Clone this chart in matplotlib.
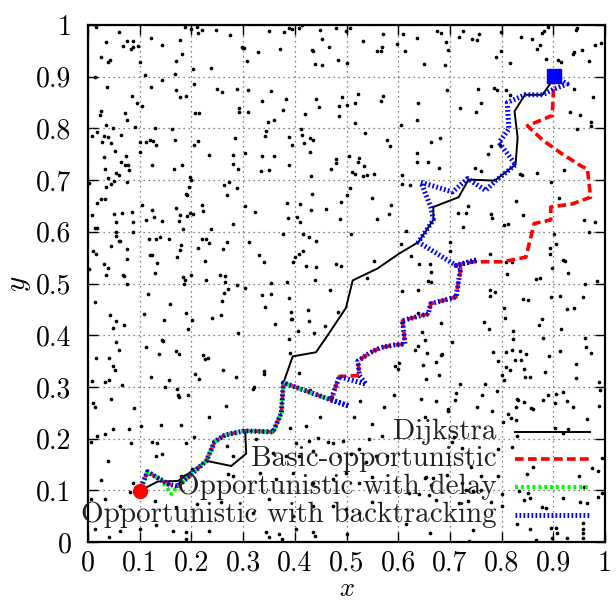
import matplotlib
matplotlib.use("Agg")
import matplotlib.pyplot as plt
import numpy as np

# ---------------- data ----------------
ticks = [0, 0.1, 0.2, 0.3, 0.4, 0.5, 0.6, 0.7, 0.8, 0.9, 1]
tick_labels = ["0", "0.1", "0.2", "0.3", "0.4", "0.5", "0.6", "0.7", "0.8", "0.9", "1"]

series_names = ["Dijkstra", "Basic-opportunistic", "Opportunistic with delay",
                "Opportunistic with backtracking"]

start_point = (0.1, 0.099)
end_point = (0.901, 0.902)

dijkstra = [(0.1, 0.099), (0.135, 0.117), (0.174, 0.118), (0.229, 0.157), (0.277, 0.147),
            (0.306, 0.171), (0.304, 0.215), (0.358, 0.213), (0.374, 0.250), (0.378, 0.308),
            (0.396, 0.359), (0.441, 0.367), (0.467, 0.405), (0.499, 0.453), (0.512, 0.506),
            (0.560, 0.529), (0.602, 0.558), (0.639, 0.580), (0.668, 0.623), (0.668, 0.648),
            (0.717, 0.667), (0.736, 0.701), (0.787, 0.699), (0.827, 0.730), (0.831, 0.782),
            (0.825, 0.833), (0.845, 0.865), (0.879, 0.865), (0.898, 0.892), (0.901, 0.902)]

basic = [(0.1, 0.099), (0.115, 0.136), (0.155, 0.112), (0.174, 0.108), (0.184, 0.117),
         (0.229, 0.157), (0.245, 0.194), (0.265, 0.207), (0.303, 0.215), (0.358, 0.213),
         (0.374, 0.250), (0.378, 0.308), (0.470, 0.275), (0.486, 0.320), (0.525, 0.322),
         (0.522, 0.350), (0.545, 0.366), (0.566, 0.376), (0.592, 0.381), (0.613, 0.383),
         (0.611, 0.406), (0.608, 0.428), (0.640, 0.437), (0.658, 0.441), (0.663, 0.461),
         (0.701, 0.471), (0.712, 0.474), (0.716, 0.500), (0.721, 0.529), (0.712, 0.535),
         (0.744, 0.542), (0.802, 0.542), (0.847, 0.551), (0.863, 0.616), (0.895, 0.623),
         (0.895, 0.648), (0.937, 0.654), (0.972, 0.667), (0.966, 0.722), (0.956, 0.726),
         (0.915, 0.752), (0.880, 0.777), (0.850, 0.805), (0.898, 0.825), (0.901, 0.889),
         (0.901, 0.902)]

delay = [(0.1, 0.099), (0.115, 0.136), (0.142, 0.120), (0.161, 0.093), (0.174, 0.108),
         (0.184, 0.117), (0.229, 0.157), (0.245, 0.194), (0.265, 0.207), (0.303, 0.215),
         (0.358, 0.213), (0.374, 0.250), (0.378, 0.308), (0.470, 0.275)]

backtracking = [(0.1, 0.099), (0.115, 0.136), (0.155, 0.112), (0.174, 0.108), (0.184, 0.117),
                (0.229, 0.157), (0.245, 0.194), (0.265, 0.207), (0.303, 0.215), (0.358, 0.213),
                (0.374, 0.250), (0.378, 0.308), (0.470, 0.275), (0.505, 0.263), (0.470, 0.275),
                (0.486, 0.320), (0.538, 0.305), (0.525, 0.322), (0.522, 0.350), (0.545, 0.366),
                (0.566, 0.376), (0.592, 0.381), (0.613, 0.383), (0.611, 0.406), (0.608, 0.428),
                (0.640, 0.437), (0.658, 0.441), (0.663, 0.461), (0.701, 0.471), (0.712, 0.474),
                (0.716, 0.500), (0.721, 0.529), (0.712, 0.535), (0.753, 0.546), (0.712, 0.535),
                (0.639, 0.580), (0.668, 0.623), (0.663, 0.648), (0.644, 0.696), (0.705, 0.677),
                (0.734, 0.703), (0.769, 0.680), (0.789, 0.699), (0.827, 0.730), (0.795, 0.773),
                (0.814, 0.799), (0.811, 0.850), (0.845, 0.865), (0.879, 0.865), (0.901, 0.876),
                (0.927, 0.886), (0.901, 0.902)]

nodes = [
    (0.015, 0.997), (0.060, 0.987), (0.035, 0.968), (0.076, 0.970), (0.088, 0.970), (0.067, 0.960),
    (0.083, 0.954), (0.088, 0.957), (0.096, 0.960), (0.025, 0.939), (0.042, 0.933), (0.038, 0.928),
    (0.122, 0.975), (0.178, 0.971), (0.143, 0.961), (0.181, 0.943), (0.171, 0.931), (0.101, 0.928),
    (0.188, 0.997), (0.199, 0.992), (0.210, 0.997), (0.213, 0.985), (0.221, 0.991), (0.248, 0.991),
    (0.274, 0.980), (0.297, 0.957), (0.238, 0.917), (0.203, 0.914), (0.168, 0.906), (0.110, 0.903),
    (0.014, 0.899), (0.144, 0.894), (0.036, 0.880), (0.121, 0.880), (0.171, 0.875), (0.205, 0.886),
    (0.250, 0.876), (0.259, 0.870), (0.288, 0.877), (0.177, 0.861), (0.190, 0.862), (0.085, 0.862),
    (0.095, 0.850), (0.105, 0.843), (0.025, 0.834), (0.023, 0.826), (0.072, 0.830), (0.076, 0.816),
    (0.292, 0.840), (0.293, 0.831), (0.207, 0.829), (0.214, 0.830), (0.034, 0.806), (0.048, 0.801),
    (0.091, 0.802), (0.130, 0.801), (0.163, 0.798), (0.007, 0.786), (0.017, 0.794), (0.030, 0.785),
    (0.038, 0.783), (0.063, 0.787), (0.028, 0.774), (0.045, 0.771), (0.100, 0.773), (0.112, 0.773),
    (0.119, 0.777), (0.125, 0.776), (0.131, 0.768), (0.168, 0.778), (0.205, 0.768), (0.212, 0.775),
    (0.284, 0.781), (0.052, 0.756), (0.101, 0.755), (0.031, 0.744), (0.074, 0.746), (0.063, 0.735),
    (0.072, 0.729), (0.077, 0.729), (0.124, 0.729), (0.181, 0.729), (0.234, 0.748), (0.281, 0.749),
    (0.280, 0.732),
    (0.032, 0.722), (0.079, 0.720), (0.167, 0.722), (0.290, 0.721), (0.054, 0.714), (0.060, 0.709),
    (0.038, 0.705), (0.050, 0.698), (0.045, 0.692), (0.035, 0.687), (0.001, 0.694), (0.076, 0.696),
    (0.198, 0.706), (0.199, 0.701), (0.195, 0.687), (0.190, 0.674), (0.192, 0.672), (0.264, 0.691),
    (0.272, 0.697), (0.289, 0.685), (0.268, 0.672), (0.026, 0.663), (0.033, 0.663), (0.018, 0.655),
    (0.008, 0.632), (0.050, 0.635), (0.066, 0.637), (0.055, 0.619), (0.086, 0.639), (0.104, 0.652),
    (0.123, 0.642), (0.127, 0.628), (0.112, 0.622), (0.087, 0.618), (0.144, 0.620), (0.171, 0.646),
    (0.177, 0.632), (0.176, 0.621), (0.198, 0.637), (0.203, 0.635), (0.191, 0.631), (0.220, 0.652),
    (0.223, 0.640), (0.280, 0.615), (0.014, 0.607), (0.017, 0.607), (0.055, 0.600), (0.088, 0.599),
    (0.055, 0.592), (0.059, 0.583), (0.061, 0.582), (0.183, 0.605), (0.238, 0.605), (0.009, 0.563),
    (0.016, 0.558), (0.045, 0.572), (0.076, 0.567), (0.118, 0.586), (0.131, 0.587), (0.140, 0.589),
    (0.157, 0.586), (0.179, 0.574), (0.177, 0.564), (0.172, 0.552), (0.119, 0.555), (0.124, 0.555),
    (0.075, 0.547), (0.221, 0.586), (0.228, 0.587), (0.234, 0.579), (0.213, 0.568), (0.261, 0.566),
    (0.268, 0.581), (0.227, 0.544), (0.134, 0.539), (0.030, 0.538), (0.039, 0.530), (0.001, 0.529),
    (0.035, 0.516), (0.067, 0.516), (0.069, 0.514), (0.130, 0.521), (0.184, 0.512), (0.187, 0.507),
    (0.200, 0.516), (0.185, 0.500), (0.229, 0.506), (0.076, 0.499), (0.255, 0.517), (0.265, 0.514),
    (0.265, 0.502), (0.270, 0.489), (0.263, 0.482), (0.289, 0.498), (0.259, 0.466), (0.014, 0.465),
    (0.117, 0.479), (0.159, 0.460),
    (0.351, 0.988), (0.380, 0.986), (0.389, 0.995), (0.395, 0.993), (0.409, 0.994), (0.414, 1.000),
    (0.299, 0.955), (0.301, 0.955), (0.329, 0.947), (0.372, 0.953), (0.308, 0.930), (0.449, 0.990),
    (0.480, 0.994), (0.453, 0.972), (0.434, 0.952), (0.436, 0.949), (0.467, 0.957), (0.439, 0.925),
    (0.452, 0.923), (0.484, 0.932), (0.499, 0.989), (0.507, 0.995), (0.501, 0.927), (0.570, 0.983),
    (0.532, 0.969), (0.559, 0.950), (0.566, 0.950), (0.568, 0.957), (0.609, 0.983), (0.637, 0.975),
    (0.676, 0.988), (0.683, 0.985), (0.597, 0.963), (0.614, 0.950), (0.692, 0.968), (0.696, 0.952),
    (0.650, 0.924), (0.691, 0.923), (0.725, 0.989), (0.717, 0.977), (0.742, 0.972), (0.753, 0.971),
    (0.757, 0.983), (0.799, 0.986), (0.799, 0.950), (0.790, 0.938), (0.816, 0.926), (0.838, 0.977),
    (0.858, 0.972), (0.879, 0.984), (0.882, 0.988), (0.889, 0.997), (0.875, 0.962), (0.868, 0.954),
    (0.886, 0.935), (0.946, 0.994), (0.944, 0.990), (0.910, 0.932), (0.915, 0.928), (0.939, 0.943),
    (0.941, 0.948), (0.956, 0.952), (0.969, 0.930), (0.980, 0.962), (0.992, 0.966),
    (0.310, 0.875), (0.353, 0.872), (0.695, 0.874), (0.754, 0.877), (0.786, 0.879), (0.791, 0.874),
    (0.809, 0.874), (0.816, 0.865), (0.941, 0.876), (0.977, 0.861), (0.337, 0.853), (0.383, 0.857),
    (0.441, 0.857), (0.492, 0.861), (0.522, 0.867), (0.571, 0.863), (0.567, 0.853), (0.309, 0.831),
    (0.378, 0.836), (0.420, 0.828), (0.447, 0.841), (0.486, 0.843), (0.517, 0.849), (0.501, 0.845),
    (0.638, 0.850), (0.719, 0.839), (0.751, 0.832), (0.761, 0.849), (0.933, 0.831), (0.951, 0.825),
    (0.348, 0.812), (0.360, 0.816), (0.485, 0.824), (0.516, 0.810), (0.636, 0.816), (0.605, 0.807),
    (0.973, 0.812), (0.973, 0.804), (0.344, 0.795), (0.342, 0.785), (0.412, 0.799), (0.413, 0.788),
    (0.430, 0.781), (0.435, 0.778), (0.389, 0.783), (0.395, 0.768), (0.417, 0.771), (0.429, 0.755),
    (0.303, 0.752), (0.336, 0.746), (0.360, 0.746), (0.479, 0.741), (0.480, 0.733), (0.470, 0.721),
    (0.389, 0.730), (0.334, 0.717), (0.350, 0.719), (0.432, 0.708), (0.535, 0.791), (0.579, 0.778),
    (0.584, 0.765), (0.524, 0.742), (0.504, 0.746), (0.522, 0.735), (0.534, 0.728), (0.511, 0.715),
    (0.516, 0.712), (0.532, 0.707), (0.540, 0.709), (0.553, 0.711), (0.607, 0.710), (0.637, 0.752),
    (0.636, 0.735), (0.657, 0.735), (0.680, 0.782), (0.663, 0.773), (0.678, 0.723), (0.748, 0.724),
    (0.760, 0.718), (0.773, 0.751), (0.780, 0.766), (0.797, 0.768), (0.835, 0.711), (0.839, 0.709),
    (0.869, 0.714), (0.945, 0.799), (0.921, 0.720), (0.304, 0.650), (0.323, 0.639), (0.385, 0.655),
    (0.387, 0.627), (0.404, 0.629), (0.411, 0.618), (0.411, 0.654), (0.431, 0.643), (0.433, 0.674),
    (0.460, 0.644), (0.487, 0.625), (0.506, 0.685), (0.489, 0.658), (0.501, 0.672), (0.550, 0.666),
    (0.559, 0.625), (0.587, 0.651), (0.582, 0.634), (0.607, 0.693), (0.622, 0.690), (0.735, 0.649),
    (0.715, 0.636), (0.731, 0.636), (0.726, 0.609), (0.780, 0.635), (0.781, 0.627), (0.804, 0.613),
    (0.813, 0.616), (0.841, 0.633), (0.827, 0.659), (0.911, 0.665), (0.960, 0.623), (0.980, 0.618),
    (0.896, 0.697), (0.312, 0.580), (0.331, 0.555), (0.340, 0.541), (0.377, 0.595), (0.416, 0.595),
    (0.428, 0.590), (0.441, 0.582), (0.409, 0.558), (0.396, 0.542), (0.416, 0.562), (0.400, 0.551),
    (0.422, 0.534), (0.441, 0.531), (0.440, 0.506), (0.480, 0.537), (0.490, 0.534), (0.509, 0.595),
    (0.553, 0.543), (0.539, 0.511), (0.615, 0.602), (0.605, 0.576), (0.625, 0.553), (0.641, 0.537),
    (0.663, 0.523), (0.663, 0.503), (0.661, 0.537), (0.701, 0.581), (0.701, 0.562), (0.778, 0.558),
    (0.808, 0.541), (0.810, 0.519), (0.820, 0.541), (0.901, 0.596), (0.905, 0.577), (0.894, 0.568),
    (0.893, 0.557), (0.898, 0.530), (0.918, 0.545), (0.923, 0.544), (0.928, 0.521), (0.970, 0.599),
    (0.866, 0.508), (0.874, 0.511), (0.303, 0.492), (0.337, 0.477), (0.354, 0.479), (0.342, 0.454),
    (0.353, 0.501), (0.384, 0.503), (0.389, 0.472), (0.392, 0.444), (0.393, 0.432), (0.426, 0.449),
    (0.469, 0.488), (0.483, 0.445), (0.607, 0.485), (0.638, 0.487), (0.638, 0.443), (0.657, 0.504),
    (0.777, 0.488), (0.787, 0.483), (0.777, 0.475), (0.805, 0.452), (0.806, 0.434), (0.842, 0.470),
    (0.852, 0.469), (0.879, 0.432), (0.895, 0.473), (0.912, 0.476), (0.926, 0.451), (0.940, 0.453),
    (0.958, 0.474), (0.962, 0.499), (0.985, 0.504),
    (0.683, 0.423), (0.647, 0.406), (0.652, 0.391), (0.639, 0.380), (0.633, 0.372), (0.655, 0.365),
    (0.602, 0.346), (0.600, 0.334), (0.648, 0.343), (0.674, 0.348), (0.684, 0.364), (0.682, 0.361),
    (0.678, 0.323), (0.653, 0.315), (0.705, 0.387), (0.719, 0.305), (0.766, 0.426), (0.775, 0.412),
    (0.783, 0.367), (0.793, 0.351), (0.767, 0.306), (0.822, 0.408), (0.808, 0.368), (0.821, 0.371),
    (0.835, 0.369), (0.823, 0.392), (0.826, 0.352), (0.837, 0.352), (0.848, 0.363), (0.808, 0.338),
    (0.816, 0.333), (0.843, 0.335), (0.846, 0.319), (0.855, 0.320), (0.800, 0.323), (0.805, 0.314),
    (0.873, 0.420), (0.881, 0.394), (0.892, 0.360), (0.883, 0.329), (0.915, 0.412), (0.912, 0.369),
    (0.962, 0.394), (0.963, 0.378), (0.972, 0.366), (0.943, 0.344), (0.943, 0.318), (0.989, 0.310),
    (0.991, 0.294), (0.712, 0.288), (0.710, 0.274), (0.697, 0.257), (0.696, 0.254), (0.673, 0.273),
    (0.645, 0.277), (0.652, 0.241), (0.763, 0.284), (0.752, 0.261), (0.781, 0.253), (0.792, 0.292),
    (0.829, 0.276), (0.832, 0.274), (0.827, 0.261), (0.844, 0.271), (0.857, 0.259), (0.861, 0.257),
    (0.881, 0.274), (0.889, 0.285), (0.905, 0.286), (0.903, 0.268), (0.918, 0.290), (0.926, 0.272),
    (0.939, 0.262), (0.813, 0.247), (0.818, 0.239), (0.827, 0.236), (0.803, 0.232), (0.903, 0.221),
    (0.929, 0.219), (0.966, 0.238), (0.988, 0.263),
    (0.829, 0.205), (0.919, 0.211), (0.821, 0.183), (0.794, 0.179), (0.995, 0.163), (0.975, 0.143),
    (0.987, 0.137), (0.861, 0.145), (0.850, 0.132), (0.949, 0.128), (0.708, 0.203), (0.704, 0.194),
    (0.723, 0.182), (0.740, 0.145), (0.760, 0.127), (0.794, 0.127), (0.654, 0.125), (0.668, 0.124),
    (0.651, 0.124), (0.694, 0.130), (0.663, 0.111), (0.723, 0.114), (0.745, 0.098), (0.731, 0.101),
    (0.760, 0.101), (0.800, 0.093), (0.834, 0.098), (0.843, 0.082), (0.852, 0.094), (0.855, 0.085),
    (0.919, 0.085), (0.952, 0.077), (0.960, 0.106), (0.966, 0.075), (0.986, 0.088), (0.995, 0.095),
    (0.800, 0.069), (0.879, 0.068), (0.886, 0.066), (0.659, 0.090), (0.641, 0.092), (0.621, 0.095),
    (0.674, 0.082), (0.717, 0.076), (0.735, 0.079), (0.780, 0.077), (0.829, 0.035), (0.855, 0.025),
    (0.896, 0.028), (0.906, 0.027), (0.908, 0.017), (0.926, 0.008), (0.897, 0.008), (0.866, 0.003),
    (0.958, 0.037), (0.958, 0.026), (0.958, 0.017), (0.958, 0.008), (0.745, 0.024), (0.737, 0.001),
    (0.661, 0.017), (0.616, 0.034),
    (0.042, 0.440), (0.054, 0.427), (0.048, 0.414), (0.070, 0.419), (0.109, 0.441), (0.147, 0.429),
    (0.190, 0.443), (0.194, 0.412), (0.202, 0.430), (0.239, 0.433), (0.258, 0.440), (0.290, 0.405),
    (0.361, 0.421), (0.394, 0.432), (0.406, 0.408), (0.428, 0.428), (0.438, 0.405), (0.459, 0.417),
    (0.054, 0.386), (0.060, 0.371), (0.015, 0.355), (0.040, 0.355), (0.049, 0.340), (0.052, 0.332),
    (0.113, 0.377), (0.137, 0.363), (0.143, 0.390), (0.145, 0.388), (0.171, 0.369), (0.176, 0.363),
    (0.223, 0.361), (0.226, 0.354), (0.232, 0.356), (0.206, 0.324), (0.215, 0.316), (0.262, 0.332),
    (0.286, 0.319), (0.340, 0.331), (0.341, 0.324), (0.121, 0.320), (0.156, 0.313), (0.008, 0.312),
    (0.033, 0.309), (0.041, 0.313), (0.065, 0.303), (0.149, 0.300), (0.172, 0.295), (0.174, 0.285),
    (0.176, 0.281), (0.194, 0.284), (0.321, 0.300), (0.319, 0.296), (0.390, 0.366), (0.388, 0.392),
    (0.409, 0.327), (0.430, 0.294), (0.010, 0.269), (0.014, 0.262), (0.044, 0.276), (0.089, 0.260),
    (0.102, 0.224), (0.141, 0.226), (0.179, 0.226), (0.234, 0.242), (0.266, 0.263), (0.422, 0.224),
    (0.448, 0.241), (0.515, 0.241), (0.526, 0.273), (0.550, 0.228), (0.573, 0.262), (0.592, 0.284),
    (0.593, 0.340), (0.006, 0.194), (0.018, 0.205), (0.033, 0.208), (0.049, 0.218), (0.084, 0.192),
    (0.123, 0.194), (0.134, 0.192), (0.080, 0.219), (0.189, 0.192), (0.205, 0.204), (0.325, 0.199),
    (0.390, 0.221), (0.403, 0.192), (0.428, 0.195), (0.444, 0.202), (0.464, 0.194), (0.473, 0.192),
    (0.493, 0.195), (0.525, 0.179), (0.543, 0.199), (0.568, 0.205), (0.039, 0.156), (0.132, 0.167),
    (0.143, 0.170), (0.201, 0.141), (0.268, 0.186), (0.280, 0.167), (0.358, 0.173), (0.383, 0.167),
    (0.409, 0.167), (0.435, 0.176), (0.486, 0.167), (0.509, 0.170), (0.538, 0.154), (0.557, 0.167),
    (0.579, 0.167), (0.026, 0.120), (0.087, 0.115), (0.113, 0.134), (0.179, 0.128), (0.271, 0.131),
    (0.280, 0.128), (0.332, 0.134), (0.364, 0.122), (0.396, 0.134), (0.435, 0.115), (0.473, 0.122),
    (0.499, 0.134), (0.525, 0.115), (0.550, 0.125), (0.033, 0.083), (0.006, 0.083), (0.062, 0.069),
    (0.081, 0.096), (0.129, 0.080), (0.170, 0.067), (0.210, 0.073), (0.257, 0.077), (0.319, 0.057),
    (0.350, 0.083), (0.396, 0.051), (0.435, 0.070), (0.473, 0.070), (0.499, 0.064), (0.525, 0.057),
    (0.550, 0.077), (0.014, 0.025), (0.062, 0.022), (0.100, 0.025), (0.132, 0.032), (0.165, 0.022),
    (0.190, 0.019), (0.235, 0.022), (0.345, 0.019), (0.370, 0.015), (0.403, 0.025), (0.435, 0.019),
    (0.040, 0.010), (0.190, 0.005), (0.350, 0.009), (0.375, 0.006), (0.440, 0.012), (0.500, 0.016),
]

# ---------------- figure ----------------
plt.rcParams['axes.formatter.use_mathtext'] = True
fig = plt.figure(figsize=(6.16, 6.01), dpi=100)
ax = fig.add_axes([88/616, 59/601, 517/616, 517/601])

ax.set_xlim(0, 1)
ax.set_ylim(0, 1)

ax.set_xticks(ticks)
ax.set_yticks(ticks)
ax.set_xticklabels(tick_labels, family='cmr10', fontsize=20)
ax.set_yticklabels(tick_labels, family='cmr10', fontsize=20)
ax.tick_params(direction='in', length=7, width=1, top=True, right=True)
ax.tick_params(axis='x', pad=6)
ax.tick_params(axis='y', pad=12)
ax.grid(True, color='0.35', linestyle=(0, (1, 3)), linewidth=0.9)
ax.set_axisbelow(True)
for s in ax.spines.values():
    s.set_linewidth(1.6)

nx = [p[0] for p in nodes]
ny = [p[1] for p in nodes]
ax.scatter(nx, ny, s=7, color='black', linewidths=0, zorder=2)

def xy(path):
    return [p[0] for p in path], [p[1] for p in path]

ax.plot(*xy(dijkstra), color='black', lw=1.4, zorder=3)
ax.plot(*xy(basic), color='#ff0000', lw=2.6, linestyle=(0, (2.4, 1.2)), zorder=4)
ax.plot(*xy(delay), color='#00ff00', lw=3.0, linestyle=(0, (0.7, 0.7)), zorder=5)
ax.plot(*xy(backtracking), color='#0000ff', lw=3.6, linestyle=(0, (0.35, 0.45)),
        dash_capstyle='butt', zorder=6)

ax.plot([start_point[0]], [start_point[1]], 'o', color='#ff0000', ms=10, zorder=7)
ax.plot([end_point[0]], [end_point[1]], 's', color='#0000ff', ms=10, zorder=7)

fig.text((88 + 517 / 2) / 616, 0.0, 'x', family='cmmi10', fontsize=19,
         ha='center', va='bottom')
ax.set_ylabel('y', family='cmmi10', fontsize=21, labelpad=4)

# legend (gnuplot style: right aligned text, sample on the right)
styles = [dict(color='black', lw=1.4),
          dict(color='#ff0000', lw=2.6, linestyle=(0, (2.4, 1.2))),
          dict(color='#00ff00', lw=3.0, linestyle=(0, (0.7, 0.7))),
          dict(color='#0000ff', lw=3.6, linestyle=(0, (0.35, 0.45)), dash_capstyle='butt')]
leg_y = [0.213, 0.160, 0.106, 0.053]
for name, st, yy in zip(series_names, styles, leg_y):
    ax.text(0.791, yy, name, transform=ax.transAxes, ha='right', va='center',
            family='cmr10', fontsize=21, color='#222222', zorder=8)
    ax.plot([0.826, 0.971], [yy, yy], transform=ax.transAxes, zorder=8, **st)

fig.savefig('out.png', dpi=100)
